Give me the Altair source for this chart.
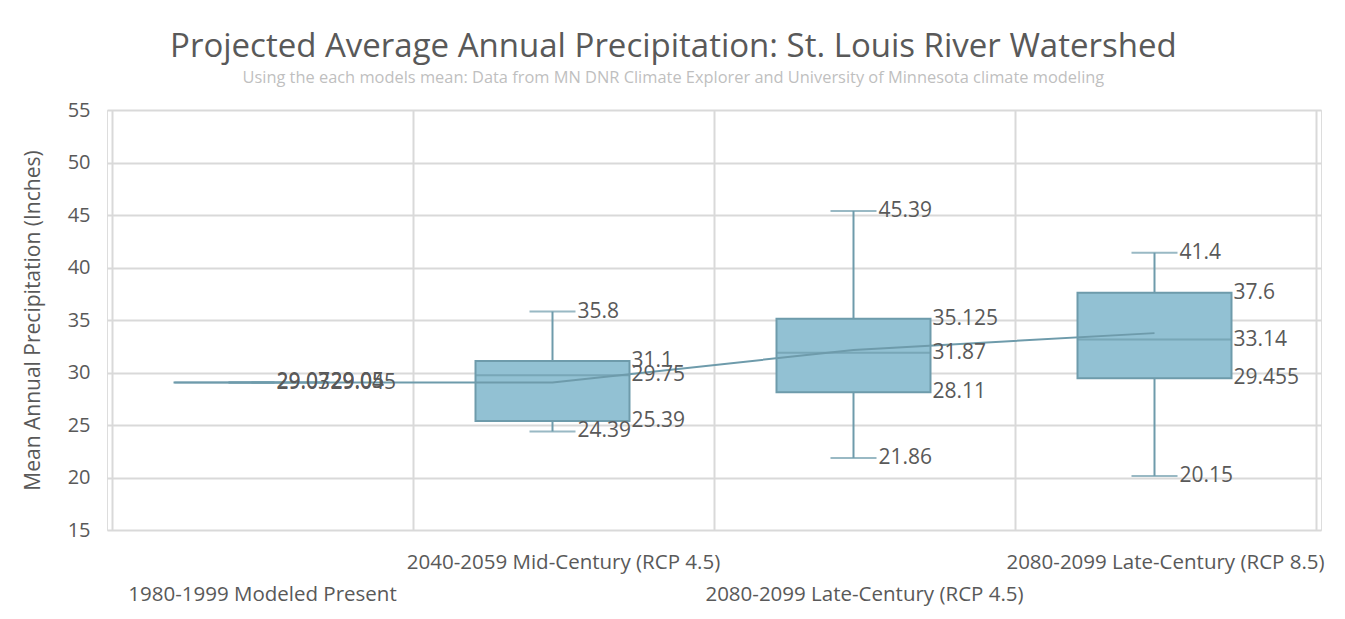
import altair as alt
import pandas as pd

# ---- data ----
categories = [
    "1980-1999 Modeled Present",
    "2040-2059 Mid-Century (RCP 4.5)",
    "2080-2099 Late-Century (RCP 4.5)",
    "2080-2099 Late-Century (RCP 8.5)",
]
mins = [29.03, 24.39, 21.86, 20.15]
q1s = [29.045, 25.39, 28.11, 29.455]
medians = [29.05, 29.75, 31.87, 33.14]
q3s = [29.05, 31.1, 35.125, 37.6]
maxs = [29.07, 35.8, 45.39, 41.4]
means = [29.04, 29.04, 32.15, 33.75]
min_labels = ["29.03", "24.39", "21.86", "20.15"]
max_labels = ["29.07", "35.8", "45.39", "41.4"]
q1_labels = ["29.045", "25.39", "28.11", "29.455"]
median_labels = ["29.05", "29.75", "31.87", "33.14"]
q3_labels = ["29.05", "31.1", "35.125", "37.6"]
label_row = ["lower", "upper", "lower", "upper"]
y_ticks = [15, 20, 25, 30, 35, 40, 45, 50, 55]

FONT = "Open Sans"
TXT = "#595959"
FILL = "#92C1D3"
STROKE = "#6E9BAB"
GRID = "#D9D9D9"

df = pd.DataFrame({
    "cat": categories,
    "pos": [i + 0.5 for i in range(len(categories))],
    "min": mins, "q1": q1s, "median": medians, "q3": q3s, "max": maxs,
    "mean": means, "row": label_row,
})

whisk_rows = []
box_rows = []
for i, c in enumerate(categories):
    p = i + 0.5
    whisk_rows.append({"pos": p, "v": mins[i], "t": min_labels[i]})
    whisk_rows.append({"pos": p, "v": maxs[i], "t": max_labels[i]})
    box_rows.append({"pos": p, "v": q1s[i], "t": q1_labels[i]})
    box_rows.append({"pos": p, "v": medians[i], "t": median_labels[i]})
    box_rows.append({"pos": p, "v": q3s[i], "t": q3_labels[i]})
wdf = pd.DataFrame(whisk_rows)
bdf = pd.DataFrame(box_rows)

W, H = 1214, 420
OFF = -11
BOXW = 154
CAPW = 46
xscale = alt.Scale(domain=[0, 4], nice=False, zero=False)
yscale = alt.Scale(domain=[15, 55], nice=False, zero=False)

xax = alt.Axis(values=[0, 1, 2, 3, 4], grid=True, gridColor=GRID, gridWidth=2,
               labels=False, ticks=False, domain=False, title=None)
yax = alt.Axis(values=y_ticks, grid=True, gridColor=GRID, gridWidth=2,
               ticks=False, domain=False, labelFont=FONT, labelFontSize=20,
               labelColor=TXT, labelPadding=17,
               title="Mean Annual Precipitation (Inches)", titleFont=FONT,
               titleFontSize=21, titleFontWeight="normal", titleColor=TXT,
               titlePadding=24)

base = alt.Chart(df)
X = alt.X("pos:Q", scale=xscale, axis=xax)

grid = base.mark_point(opacity=0).encode(x=X, y=alt.Y("median:Q", scale=yscale, axis=yax))

whisk_lo = base.mark_rule(color=STROKE, strokeWidth=2, xOffset=OFF).encode(
    x="pos:Q", y="min:Q", y2="q1:Q")
whisk_hi = base.mark_rule(color=STROKE, strokeWidth=2, xOffset=OFF).encode(
    x="pos:Q", y="q3:Q", y2="max:Q")
cap_lo = base.mark_tick(color=STROKE, orient="horizontal", size=CAPW, thickness=2,
                        xOffset=OFF).encode(x="pos:Q", y="min:Q")
cap_hi = base.mark_tick(color=STROKE, orient="horizontal", size=CAPW, thickness=2,
                        xOffset=OFF).encode(x="pos:Q", y="max:Q")
box = base.mark_bar(size=BOXW, fill=FILL, stroke=STROKE, strokeWidth=2,
                    xOffset=OFF).encode(x="pos:Q", y="q1:Q", y2="q3:Q")
med = base.mark_tick(color=STROKE, orient="horizontal", size=BOXW, thickness=2,
                     xOffset=OFF).encode(x="pos:Q", y="median:Q")
mean_line = base.mark_line(color=STROKE, strokeWidth=2, xOffset=OFF).encode(
    x="pos:Q", y="mean:Q")

wlab = alt.Chart(wdf).mark_text(align="left", baseline="middle",
                                dx=OFF + CAPW / 2 + 2,
                                font=FONT, fontSize=21, color=TXT).encode(
    x="pos:Q", y="v:Q", text="t:N")
blab = alt.Chart(bdf).mark_text(align="left", baseline="middle",
                                dx=OFF + BOXW / 2 + 2,
                                font=FONT, fontSize=21, color=TXT).encode(
    x="pos:Q", y="v:Q", text="t:N")

xlab_up = base.transform_filter(alt.datum.row == "upper").mark_text(
    baseline="middle", font=FONT, fontSize=20.5, color=TXT).encode(
    x="pos:Q", y=alt.value(H + 33), text="cat:N")
xlab_lo = base.transform_filter(alt.datum.row == "lower").mark_text(
    baseline="middle", font=FONT, fontSize=20.5, color=TXT).encode(
    x="pos:Q", y=alt.value(H + 65), text="cat:N")

chart = alt.layer(
    grid, whisk_lo, whisk_hi, cap_lo, cap_hi, box, med, mean_line,
    wlab, blab, xlab_up, xlab_lo,
).properties(
    width=W, height=H,
    title=alt.TitleParams(
        text="Projected Average Annual Precipitation: St. Louis River Watershed",
        subtitle="Using the each models mean: Data from MN DNR Climate Explorer and University of Minnesota climate modeling",
        font=FONT, fontSize=33, fontWeight="normal", color=TXT,
        subtitleFont=FONT, subtitleFontSize=16.4, subtitleColor="#BFBFBF",
        subtitlePadding=6, anchor="middle", frame="bounds", offset=14,
    ),
    padding={"left": 99, "top": 102, "right": 16, "bottom": 81},
    autosize=alt.AutoSizeParams(type="none"),
).configure_view(
    stroke="#DCDCD6", strokeWidth=3,
).configure(background="white")

chart.save("out.html", embed_options={"renderer": "svg", "actions": False})
